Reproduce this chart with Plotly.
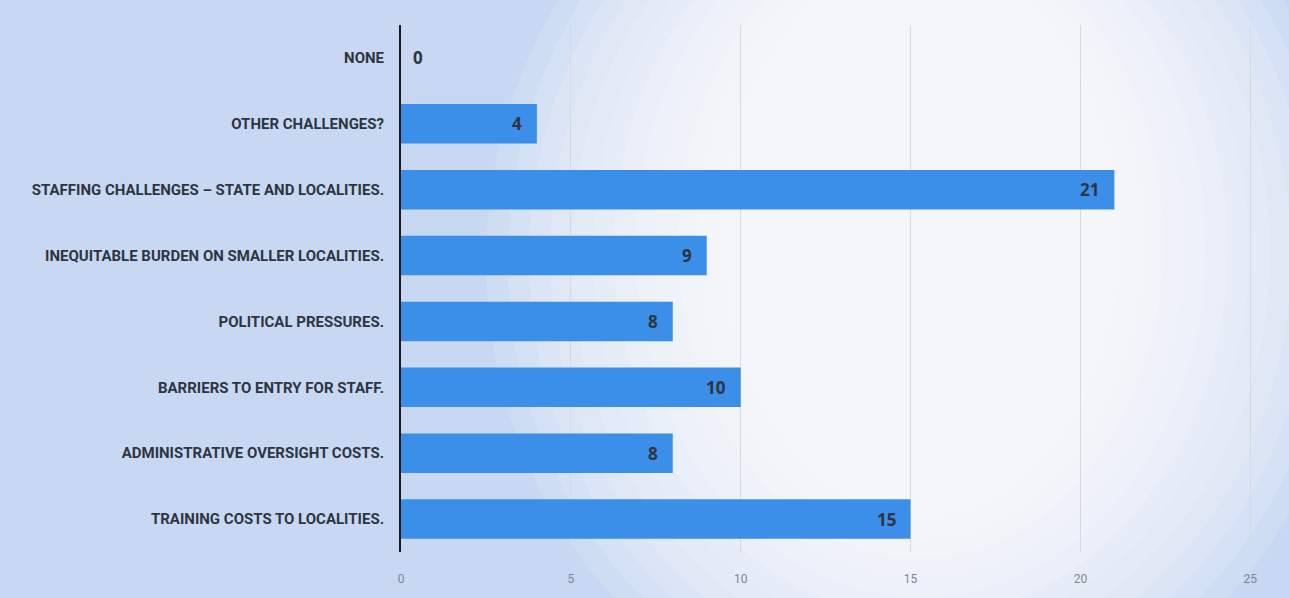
import plotly.graph_objects as go

# Survey responses: challenges reported, top of chart first
categories = [
    "NONE",
    "OTHER CHALLENGES?",
    "STAFFING CHALLENGES – STATE AND LOCALITIES.",
    "INEQUITABLE BURDEN ON SMALLER LOCALITIES.",
    "POLITICAL PRESSURES.",
    "BARRIERS TO ENTRY FOR STAFF.",
    "ADMINISTRATIVE OVERSIGHT COSTS.",
    "TRAINING COSTS TO LOCALITIES.",
]
counts = [0, 4, 21, 9, 8, 10, 8, 15]
x_ticks = [0, 5, 10, 15, 20, 25]

BAR_BLUE = "#3b8fe8"
LABEL_DARK = "#2e3540"
LABEL_FONT = "Roboto, sans-serif"

fig = go.Figure(
    go.Bar(
        x=counts,
        y=categories,
        orientation="h",
        marker=dict(color=BAR_BLUE, line=dict(width=0)),
        width=0.6,
        hoverinfo="x+y",
    )
)

# value labels at the end of each bar (outside when the bar is empty)
for cat, val in zip(categories, counts):
    if val == 0:
        fig.add_annotation(x=val, y=cat, text=f"<b>{val}</b>", showarrow=False,
                           xanchor="left", xshift=10,
                           font=dict(size=17, color=LABEL_DARK, family="Open Sans, sans-serif"))
    else:
        fig.add_annotation(x=val, y=cat, text=f"<b>{val}</b>", showarrow=False,
                           xanchor="right", xshift=-13,
                           font=dict(size=17, color=LABEL_DARK, family="Open Sans, sans-serif"))

# soft vignette: pale blue frame brightening toward the upper centre
shapes = []
n = 12
for i in range(n):
    f = i / n
    shapes.append(dict(
        type="circle", xref="paper", yref="paper", layer="below",
        x0=0.10 + 0.30 * f, x1=1.12 - 0.30 * f,
        y0=-0.35 + 0.45 * f, y1=1.45 - 0.35 * f,
        fillcolor="white", opacity=0.14, line=dict(width=0),
    ))

fig.update_layout(
    width=1289,
    height=598,
    margin=dict(l=401, r=36, t=25, b=44),
    paper_bgcolor="#c8d8f2",
    plot_bgcolor="rgba(0,0,0,0)",
    showlegend=False,
    shapes=shapes,
    bargap=0.4,
    xaxis=dict(
        range=[0, 25.08],
        tickvals=x_ticks,
        showgrid=True,
        gridcolor="#d6dae0",
        gridwidth=1,
        zeroline=False,
        showline=False,
        ticks="",
        ticklabelstandoff=18,
        tickfont=dict(size=12, color="#80868f", family=LABEL_FONT),
        fixedrange=True,
    ),
    yaxis=dict(
        categoryorder="array",
        categoryarray=categories[::-1],
        showline=True,
        linecolor="#1a1a1a",
        linewidth=2,
        showgrid=False,
        ticks="",
        ticklabelstandoff=12,
        tickfont=dict(size=15, color=LABEL_DARK, family=LABEL_FONT, weight="bold"),
        fixedrange=True,
    ),
)

fig.write_html("out.html")
